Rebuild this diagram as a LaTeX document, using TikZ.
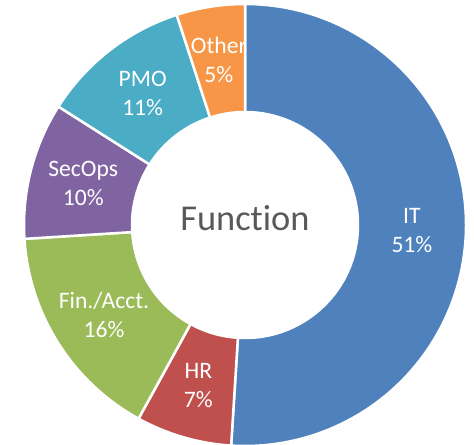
\documentclass[tikz,border=0pt]{standalone}
\usepackage{fontspec}
\setmainfont{Carlito}[Ligatures={NoCommon}]
\usepackage{xcolor}
\usepackage{tikz}

\definecolor{itblue}{HTML}{4F81BD}
\definecolor{hrred}{HTML}{C0504D}
\definecolor{fingreen}{HTML}{9BBB59}
\definecolor{secpurple}{HTML}{8064A2}
\definecolor{pmoteal}{HTML}{4BACC6}
\definecolor{otherorange}{HTML}{F79646}
\definecolor{titlegray}{HTML}{595959}

\tikzset{
	slice/.style={draw=white, line width=1.25pt, line join=round},
	lbl/.style={text=white, align=center, inner sep=0pt, font=\fontsize{11.8}{14.5}\selectfont},
}

\begin{document}
\begin{tikzpicture}[x=0.5pt, y=0.5pt]
		% Fix the page to the chart area
		\useasboundingbox (-245,-219) rectangle (229,225);
		% Draw the slices, clockwise from the top
		\draw[slice, fill=itblue] (90:221) arc[start angle=90, end angle=-93.6, radius=221]
			-- (-93.6:113) arc[start angle=-93.6, end angle=90, radius=113] -- cycle;
		\draw[slice, fill=hrred] (-93.6:221) arc[start angle=-93.6, end angle=-118.8, radius=221]
			-- (-118.8:113) arc[start angle=-118.8, end angle=-93.6, radius=113] -- cycle;
		\draw[slice, fill=fingreen] (-118.8:221) arc[start angle=-118.8, end angle=-176.4, radius=221]
			-- (-176.4:113) arc[start angle=-176.4, end angle=-118.8, radius=113] -- cycle;
		\draw[slice, fill=secpurple] (-176.4:221) arc[start angle=-176.4, end angle=-212.4, radius=221]
			-- (-212.4:113) arc[start angle=-212.4, end angle=-176.4, radius=113] -- cycle;
		\draw[slice, fill=pmoteal] (-212.4:221) arc[start angle=-212.4, end angle=-252, radius=221]
			-- (-252:113) arc[start angle=-252, end angle=-212.4, radius=113] -- cycle;
		\draw[slice, fill=otherorange] (-252:221) arc[start angle=-252, end angle=-270, radius=221]
			-- (-270:113) arc[start angle=-270, end angle=-252, radius=113] -- cycle;
		% Node in the hole
		\node[anchor=base, text=titlegray, inner sep=0pt, font=\fontsize{18.2}{22}\selectfont] (v0) at (0,-5) {Function};
		% Slice labels
		\node[lbl] (l1) at (-1.8:167) {IT\\51\%};
		\node[lbl] (l2) at (-106.2:167) {HR\\7\%};
		\node[lbl] (l3) at (-147.6:167) {Fin./Acct.\\16\%};
		\node[lbl] (l4) at (-194.4:167) {SecOps\\10\%};
		\node[lbl] (l5) at (-232.2:167) {PMO\\11\%};
		% The last label is cut off by its slice
		\begin{scope}
			\clip (-252:221) arc[start angle=-252, end angle=-270, radius=221]
				-- (-270:113) arc[start angle=-270, end angle=-252, radius=113] -- cycle;
			\node[lbl] (l6) at (-261:167) {Other\\5\%};
		\end{scope}
\end{tikzpicture}
\end{document}
